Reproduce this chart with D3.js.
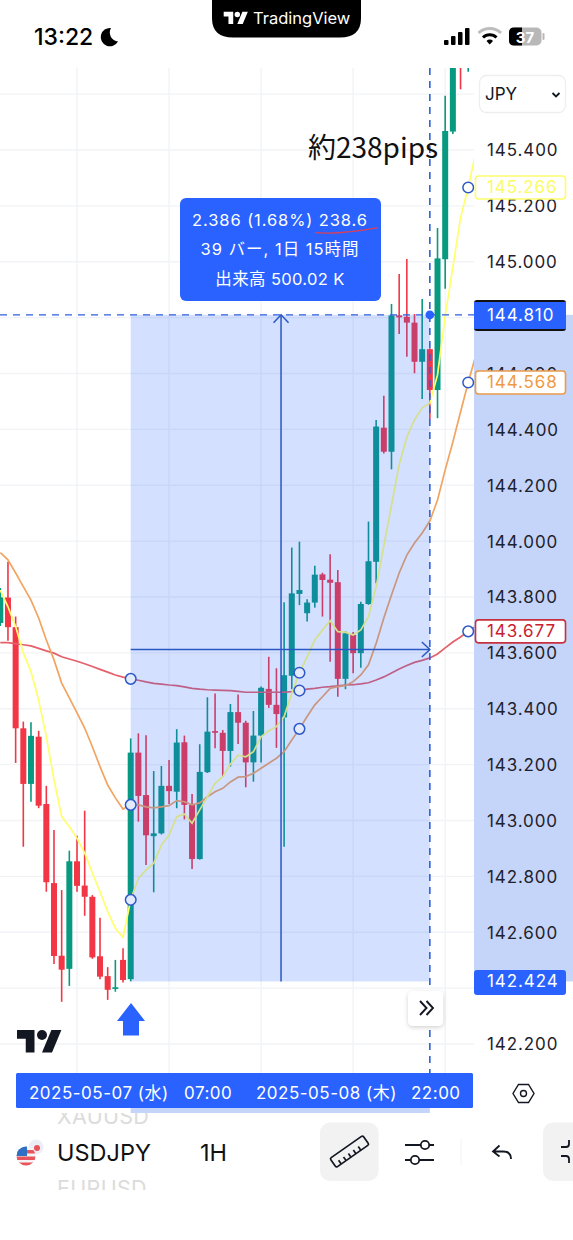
<!DOCTYPE html>
<html><head><meta charset="utf-8">
<script src="https://cdnjs.cloudflare.com/ajax/libs/d3/7.8.5/d3.min.js"></script>
<style>
html,body{margin:0;padding:0;background:#fff;overflow:hidden}
svg{display:block}
text{font-family:Inter,"Noto Sans CJK JP",sans-serif}
</style></head><body>
<svg id="c" width="573" height="1240"></svg>
<script>
const opens=[143.707,143.798,143.692,143.330,143.131,143.300,143.059,142.776,142.516,142.469,142.854,142.767,142.727,142.514,142.443,142.397,142.501,142.432,143.243,143.091,142.944,142.954,143.124,143.103,143.280,143.056,142.862,143.173,143.320,143.314,143.249,143.388,143.350,143.208,143.304,143.471,143.414,143.369,143.518,143.811,143.742,143.780,143.881,143.862,143.853,143.507,143.664,143.599,143.775,143.926,144.406,144.320,144.808,144.803,144.782,144.642,144.687,144.541,145.009,145.466,145.776,145.758];
const highs=[143.832,143.926,143.730,143.354,143.352,143.321,143.124,142.966,142.751,142.892,142.945,143.035,142.733,142.652,142.475,142.501,142.543,143.294,143.312,143.305,143.177,143.195,143.217,143.327,143.304,143.095,143.273,143.441,143.455,143.324,143.417,143.451,143.357,143.392,143.480,143.586,143.545,143.781,143.977,143.998,143.792,143.912,143.887,143.953,143.897,143.678,143.675,143.783,144.070,144.434,144.520,144.849,144.956,145.010,144.813,144.867,144.690,145.121,145.594,145.794,145.794,145.830];
const lows=[143.696,143.643,143.206,142.906,143.067,143.044,142.745,142.486,142.351,142.408,142.745,142.659,142.505,142.432,142.358,142.387,142.420,142.424,142.996,142.841,142.743,142.950,143.059,143.044,143.004,142.826,142.860,143.170,143.259,143.157,143.193,143.274,143.119,143.139,143.208,143.403,143.260,142.906,143.470,143.771,143.712,143.762,143.730,143.568,143.443,143.470,143.527,143.547,143.772,143.849,144.314,144.257,144.741,144.660,144.601,144.509,144.436,144.440,144.903,145.457,145.617,145.680];
const closes=[143.799,143.692,143.330,143.131,143.303,143.053,142.779,142.515,142.466,142.854,142.766,142.727,142.510,142.441,142.394,142.403,142.429,143.243,143.088,142.947,142.954,143.124,143.105,143.279,143.056,142.862,143.174,143.318,143.314,143.249,143.388,143.350,143.208,143.304,143.475,143.414,143.381,143.520,143.813,143.825,143.780,143.880,143.861,143.851,143.507,143.670,143.599,143.775,143.928,144.410,144.320,144.808,144.801,144.782,144.642,144.687,144.541,145.012,145.468,145.758,145.722,145.812];
const yellowMA=[143.825,143.765,143.694,143.600,143.533,143.431,143.300,143.145,143.014,142.978,142.936,142.884,142.812,142.745,142.674,142.614,142.582,142.716,142.793,142.823,142.847,142.912,142.948,143.014,143.023,142.990,143.038,143.085,143.133,143.157,143.202,143.234,143.228,143.246,143.300,143.321,143.336,143.372,143.455,143.529,143.586,143.646,143.682,143.715,143.676,143.674,143.664,143.682,143.730,143.837,143.983,144.129,144.273,144.373,144.434,144.477,144.494,144.595,144.806,144.981,145.157,145.266,145.393];
const orangeMA=[143.959,143.933,143.886,143.837,143.789,143.725,143.646,143.575,143.492,143.439,143.385,143.331,143.264,143.193,143.127,143.081,143.041,143.056,143.056,143.049,143.045,143.049,143.053,143.071,143.067,143.056,143.063,143.085,143.103,143.115,143.138,143.155,143.157,143.169,143.187,143.205,143.223,143.246,143.288,143.328,143.372,143.414,143.443,143.473,143.479,143.483,143.497,143.521,143.557,143.634,143.725,143.807,143.886,143.950,143.993,144.029,144.072,144.147,144.255,144.355,144.462,144.568,144.666];
const redMA=[143.637,143.637,143.633,143.629,143.625,143.616,143.607,143.599,143.586,143.578,143.570,143.561,143.551,143.541,143.531,143.521,143.513,143.507,143.502,143.496,143.491,143.488,143.485,143.483,143.478,143.473,143.470,143.468,143.467,143.466,143.465,143.462,143.459,143.459,143.459,143.459,143.459,143.459,143.461,143.465,143.470,143.473,143.477,143.479,143.482,143.485,143.486,143.489,143.493,143.503,143.514,143.528,143.542,143.555,143.566,143.573,143.582,143.596,143.618,143.639,143.657,143.677,143.696];
const priceTicks=[145.6,145.4,145.2,145.0,144.8,144.6,144.4,144.2,144.0,143.8,143.6,143.4,143.2,143.0,142.8,142.6,142.4,142.2];
const gridBars=[10,22,34,46,58];
const timeLabels=["2025-05-07 (水)","07:00","2025-05-08 (木)","22:00"];
const measure={startBar:17,endBar:56,midBar:36.6,startPrice:142.424,endPrice:144.810,midPrice:143.612};
const handleBars=[17,39,61];
const tooltipLines=["2.386 (1.68%) 238.6","39 バー, 1日 15時間","出来高 500.02 K"];
const maLabels=[{v:145.266,text:"145.266",c:"#fdfd6b",t:"#fbfb66"},{v:144.568,text:"144.568",c:"#ea9b4c",t:"#ef9a43"},{v:143.677,text:"143.677",c:"#c6303f",t:"#c9202f"}];

const svg=d3.select("#c");
const x=d3.scaleLinear().domain([0,61]).range([0.3,468.2]);
const y=d3.scaleLinear().domain([145.4,142.2]).range([150,1044]);
const BLUE="#2962ff",UP="#089981",DOWN="#f23645",LINE="#2a57c4";
const AXLS=".9";
const defs=svg.append("defs");
defs.append("clipPath").attr("id","plot").append("rect").attr("x",0).attr("y",68).attr("width",474).attr("height",1005);
defs.append("clipPath").attr("id","xau").append("rect").attr("x",0).attr("y",1113).attr("width",300).attr("height",30);
defs.append("clipPath").attr("id","eur").append("rect").attr("x",0).attr("y",1170).attr("width",300).attr("height",20);
defs.append("clipPath").attr("id","flag").append("circle").attr("cx",26).attr("cy",1156).attr("r",9.5);
const sh=defs.append("filter").attr("id","sh").attr("x","-30%").attr("y","-30%").attr("width","160%").attr("height","170%");
sh.append("feDropShadow").attr("dx",0).attr("dy",1.5).attr("stdDeviation",2).attr("flood-color","#000").attr("flood-opacity",.18);

const plot=svg.append("g").attr("clip-path","url(#plot)");
// grid
plot.selectAll("line.h").data(priceTicks).join("line").attr("x1",0).attr("x2",474)
  .attr("y1",d=>y(d)).attr("y2",d=>y(d)).attr("stroke","#f1f3f6").attr("stroke-width",1.4);
plot.selectAll("line.v").data(gridBars).join("line").attr("x1",d=>x(d)).attr("x2",d=>x(d))
  .attr("y1",68).attr("y2",1073).attr("stroke","#f1f3f6").attr("stroke-width",1.4);
// candles
const bars=d3.range(opens.length);
const col=i=>closes[i]>=opens[i]?UP:DOWN;
plot.selectAll("line.w").data(bars).join("line").attr("x1",i=>x(i)).attr("x2",i=>x(i))
  .attr("y1",i=>y(highs[i])).attr("y2",i=>y(lows[i])).attr("stroke",col).attr("stroke-width",1.6);
plot.selectAll("rect.b").data(bars).join("rect").attr("x",i=>x(i)-3).attr("width",6)
  .attr("y",i=>y(Math.max(opens[i],closes[i])))
  .attr("height",i=>Math.max(1.5,Math.abs(y(opens[i])-y(closes[i])))).attr("fill",col);
// MAs
const line=d3.line().x((d,i)=>x(i)).y(d=>y(d));
[[redMA,"#e5606a"],[orangeMA,"#f2a460"],[yellowMA,"#ffff6e"]].forEach(([a,c])=>{
  plot.append("path").attr("d",line(a)).attr("fill","none").attr("stroke",c).attr("stroke-width",1.7);
});
// measure overlay
const ox0=x(measure.startBar),ox1=x(measure.endBar),oy0=y(measure.endPrice),oy1=y(measure.startPrice);
svg.append("rect").attr("x",ox0).attr("y",oy0).attr("width",ox1-ox0).attr("height",oy1-oy0).attr("fill","rgba(41,98,255,.2)");
svg.append("rect").attr("x",474).attr("y",oy0).attr("width",99).attr("height",oy1-oy0).attr("fill","#c5d4f9");
// dashed crosshair
svg.append("line").attr("x1",0).attr("x2",474).attr("y1",oy0).attr("y2",oy0).attr("stroke","#2f5fdc").attr("stroke-width",1.4).attr("stroke-dasharray","7 6");
svg.append("line").attr("x1",ox1).attr("x2",ox1).attr("y1",68).attr("y2",1073).attr("stroke","#2f5fdc").attr("stroke-width",1.6).attr("stroke-dasharray","7 6");
// arrows
const mx=x(measure.midBar),my=y(measure.midPrice);
svg.append("line").attr("x1",mx).attr("x2",mx).attr("y1",oy0).attr("y2",oy1).attr("stroke",LINE).attr("stroke-width",1.5);
svg.append("path").attr("d",`M${mx-7.5} ${oy0+8}L${mx} ${oy0}L${mx+7.5} ${oy0+8}`).attr("fill","none").attr("stroke",LINE).attr("stroke-width",1.5);
svg.append("line").attr("x1",ox0).attr("x2",ox1).attr("y1",my).attr("y2",my).attr("stroke",LINE).attr("stroke-width",1.5);
svg.append("path").attr("d",`M${ox1-8} ${my-7.5}L${ox1} ${my}L${ox1-8} ${my+7.5}`).attr("fill","none").attr("stroke",LINE).attr("stroke-width",1.5);
// handles
handleBars.forEach(b=>[redMA,orangeMA,yellowMA].forEach(a=>{
  svg.append("circle").attr("cx",x(b)).attr("cy",y(a[b])).attr("r",5.3)
    .attr("fill",b===61?"#fff":"#e3eafc").attr("stroke","#2c58c8").attr("stroke-width",1.5);
}));
svg.append("circle").attr("cx",ox1).attr("cy",oy0).attr("r",4.4).attr("fill",BLUE);

// price axis
const axis=d3.axisRight(y).tickValues(priceTicks).tickFormat(d3.format(".3f")).tickSize(0).tickPadding(0);
const ag=svg.append("g").attr("transform","translate(487,0.5)").call(axis);
ag.select(".domain").remove();
ag.selectAll("text").attr("font-size",17).attr("letter-spacing",AXLS).attr("fill","#1e222d").style("font-family","Inter");

// MA labels
maLabels.forEach(l=>{
  svg.append("rect").attr("x",475.5).attr("y",y(l.v)-11.5).attr("width",90).attr("height",23).attr("rx",3).attr("fill","#fff").attr("stroke",l.c).attr("stroke-width",1.6);
  svg.append("text").attr("x",487).attr("y",y(l.v)+6).attr("font-size",17).attr("letter-spacing",AXLS).attr("fill",l.t).text(l.text);
});
// current price labels
svg.append("rect").attr("x",474).attr("y",300).attr("width",92).attr("height",31).attr("rx",3).attr("fill","#111");
svg.append("rect").attr("x",474).attr("y",302).attr("width",92).attr("height",27).attr("fill",BLUE);
svg.append("text").attr("x",487).attr("y",y(measure.endPrice)+6).attr("font-size",17).attr("letter-spacing",AXLS).attr("fill","#fff").text(d3.format(".3f")(measure.endPrice));
svg.append("rect").attr("x",474).attr("y",970).attr("width",92).attr("height",25).attr("rx",3).attr("fill",BLUE);
svg.append("text").attr("x",487).attr("y",y(measure.startPrice)+6).attr("font-size",17).attr("letter-spacing",AXLS).attr("fill","#fff").text(d3.format(".3f")(measure.startPrice));

// JPY select
svg.append("rect").attr("x",479.5).attr("y",75.5).attr("width",86).attr("height",37).attr("rx",7).attr("fill","#fff").attr("stroke","#eeeeee").attr("stroke-width",1.3);
svg.append("text").attr("x",485).attr("y",100).attr("font-size",17).attr("fill","#131722").text("JPY");
svg.append("path").attr("d","M552.5 93l3.5 3.5l3.5-3.5").attr("fill","none").attr("stroke","#131722").attr("stroke-width",1.8);

// annotation
svg.append("text").attr("x",308).attr("y",158).attr("font-size",28).attr("fill","#111").style("font-family","'Noto Sans CJK JP'").text("約238pips");

// tooltip
svg.append("rect").attr("x",180).attr("y",198).attr("width",201).attr("height",103).attr("rx",6).attr("fill",BLUE);
const tipSpacing=[.9,1,.35];
tooltipLines.forEach((t,i)=>svg.append("text").attr("x",280).attr("y",[226,255,285][i]).attr("text-anchor","middle").attr("font-size",16.5).attr("letter-spacing",tipSpacing[i]).attr("fill","#fff").text(t));
svg.append("path").attr("d","M315 232.7C335 234 355 232 378 227.6").attr("fill","none").attr("stroke","#d9405a").attr("stroke-width",1.3);

// up arrow
svg.append("path").attr("d","M131 1003L145 1021H139V1035.500H123V1021H117Z").attr("fill",BLUE);
// logo
const tv="M14 22H7V11H0V4h14v18zM28 22h-8l7.5-18h8L28 22z";
const lg=svg.append("g").attr("transform","translate(17,1025) scale(1.25)");
lg.append("path").attr("d",tv).attr("fill","#131722");lg.append("circle").attr("cx",20).attr("cy",8).attr("r",4).attr("fill","#131722");
// scroll button
svg.append("rect").attr("x",408).attr("y",991).attr("width",35).attr("height",35).attr("rx",5).attr("fill","#fff").attr("filter","url(#sh)");
svg.append("path").attr("d","M420 1001l6.500 7l-6.500 7M426.500 1001l6.500 7l-6.500 7").attr("fill","none").attr("stroke","#131722").attr("stroke-width",1.9);

// time bar
svg.append("rect").attr("x",ox0).attr("y",1073).attr("width",ox1-ox0).attr("height",40).attr("fill","#c5d4f9");
svg.append("rect").attr("x",16).attr("y",1073).attr("width",457).attr("height",35).attr("rx",1.5).attr("fill",BLUE);
[29,184,256,411].forEach((px,i)=>svg.append("text").attr("x",px).attr("y",1099).attr("font-size",17).attr("letter-spacing",".5").attr("fill","#fff").text(timeLabels[i]));
// hex icon
svg.append("path").attr("d","M518.500 1084.500H528.500L534 1093.500L528.500 1102.500H518.500L513 1093.500Z").attr("fill","none").attr("stroke","#131722").attr("stroke-width",1.4);
svg.append("circle").attr("cx",523.500).attr("cy",1093.500).attr("r",3).attr("fill","none").attr("stroke","#131722").attr("stroke-width",1.4);

// status bar
svg.append("path").attr("d","M212 0H361V18Q361 37.500 340 37.500H233Q212 37.500 212 18Z").attr("fill","#000");
const lg2=svg.append("g").attr("transform","translate(223.700,9) scale(.68)");
lg2.append("path").attr("d",tv).attr("fill","#fff");lg2.append("circle").attr("cx",20).attr("cy",8).attr("r",4).attr("fill","#fff");
svg.append("text").attr("x",253).attr("y",24).attr("font-size",16.5).attr("fill","#fff").text("TradingView");
svg.append("text").attr("x",34).attr("y",45).attr("font-size",23).attr("font-weight",500).attr("fill","#000").text("13:22");
svg.append("path").attr("d","M111 28A9.200 9.200 0 1 0 118 41.500A9 9 0 0 1 111 28Z").attr("fill","#000");
[[444,5],[451,9],[458,13],[465,17]].forEach(([a,h])=>svg.append("rect").attr("x",a).attr("y",45-h).attr("width",4.500).attr("height",h).attr("rx",1).attr("fill","#000"));
svg.append("path").attr("d","M478.500 33A16 16 0 0 1 501 33").attr("fill","none").attr("stroke","#bdbdbd").attr("stroke-width",3);
svg.append("path").attr("d","M483 37.500A9.500 9.500 0 0 1 496.500 37.500").attr("fill","none").attr("stroke","#000").attr("stroke-width",3);
svg.append("path").attr("d","M486.500 41L489.700 44.500L493 41A4.500 4.500 0 0 0 486.500 41Z").attr("fill","#000");
svg.append("rect").attr("x",509).attr("y",27.500).attr("width",32.500).attr("height",18).attr("rx",5).attr("fill","#b8b8b8");
svg.append("path").attr("d","M514 27.500H522V45.500H514Q509 45.500 509 40.500V32.500Q509 27.500 514 27.500Z").attr("fill","#000");
svg.append("rect").attr("x",542.500).attr("y",33).attr("width",2).attr("height",7).attr("rx",1).attr("fill","#b8b8b8");
svg.append("text").attr("x",525).attr("y",42.500).attr("text-anchor","middle").attr("font-size",15).attr("font-weight",700).attr("fill","#fff").text("37");

// bottom toolbar
svg.append("text").attr("x",57).attr("y",1124).attr("clip-path","url(#xau)").attr("font-size",21.5).attr("letter-spacing",".3").attr("fill","#dcdcdc").text("XAUUSD");
svg.append("text").attr("x",57).attr("y",1196).attr("clip-path","url(#eur)").attr("font-size",21.5).attr("letter-spacing",".3").attr("fill","#dcdcdc").text("EURUSD");
svg.append("text").attr("x",57).attr("y",1161).attr("font-size",23.500).attr("fill","#111").text("USDJPY");
svg.append("text").attr("x",200).attr("y",1161).attr("font-size",23.500).attr("fill","#111").text("1H");
svg.append("circle").attr("cx",36).attr("cy",1147).attr("r",7.500).attr("fill","#eceef6");
svg.append("circle").attr("cx",37).attr("cy",1148).attr("r",3).attr("fill","#e8525a");
const fl=svg.append("g").attr("clip-path","url(#flag)");
fl.append("rect").attr("x",16).attr("y",1146).attr("width",20).attr("height",20).attr("fill","#f4f4f4");
[1150,1156.500,1162.500].forEach(p=>fl.append("rect").attr("x",16).attr("y",p).attr("width",20).attr("height",3.500).attr("fill","#e8545c"));
fl.append("rect").attr("x",16).attr("y",1146).attr("width",11).attr("height",10).attr("fill","#2f6fc4");
svg.append("rect").attr("x",320).attr("y",1122.500).attr("width",58.500).attr("height",58.500).attr("rx",10).attr("fill","#f2f2f2");
svg.append("rect").attr("x",543).attr("y",1122.500).attr("width",40).attr("height",58.500).attr("rx",10).attr("fill","#f2f2f2");
const rg=svg.append("g").attr("transform","translate(349.500,1151.500) rotate(-35)").attr("fill","none").attr("stroke","#131722").attr("stroke-width",1.7);
rg.append("rect").attr("x",-20).attr("y",-5.500).attr("width",40).attr("height",11).attr("rx",1.500);
d3.range(-14,16,6).forEach(t=>rg.append("line").attr("x1",t).attr("x2",t).attr("y1",5.500).attr("y2",1));
const ic=svg.append("g").attr("fill","none").attr("stroke","#131722").attr("stroke-width",1.8);
ic.append("path").attr("d","M405 1145H420M430 1145H434M405 1160H410M420 1160H434");
ic.append("circle").attr("cx",425).attr("cy",1145).attr("r",4.200);
ic.append("circle").attr("cx",415).attr("cy",1160).attr("r",4.200);
ic.append("path").attr("d","M499.500 1145.500L493 1151.500L499.500 1156.500M493 1151.500H503Q511 1151.500 511 1159");
ic.append("path").attr("d","M569 1140v4q0 3-3 3h-5M561 1156h5q3 0 3 3v4");
svg.append("line").attr("x1",461).attr("x2",461).attr("y1",1139).attr("y2",1165).attr("stroke","#f2f2f2").attr("stroke-width",1);
</script>
</body></html>
